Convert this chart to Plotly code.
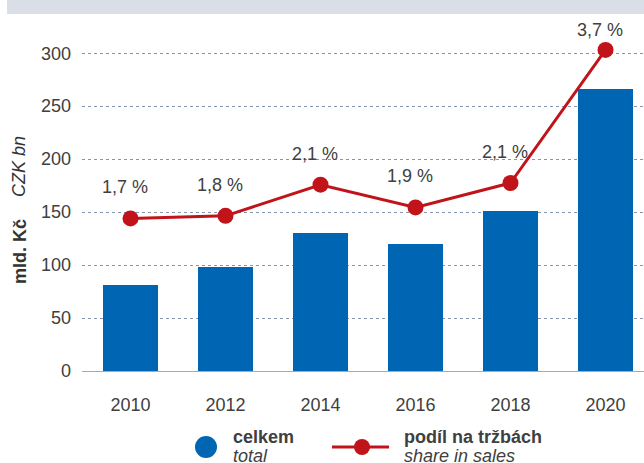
import plotly.graph_objects as go

years = [2010, 2012, 2014, 2016, 2018, 2020]
celkem = [81, 98, 130, 120, 151, 266]
share = [1.70, 1.73, 2.10, 1.83, 2.12, 3.70]
share_labels = ["1,7 %", "1,8 %", "2,1 %", "1,9 %", "2,1 %", "3,7 %"]
y_ticks = [0, 50, 100, 150, 200, 250, 300]

W, H = 644, 463
L, R, T, B = 82, 0, 32, 92
pw, ph = W - L - R, H - T - B

def px(x):
    return (x - L) / pw

def py(y):
    return (H - B - y) / ph

FONT = "Liberation Sans, Arial, sans-serif"
BLUE = "#0066b3"
RED = "#c0141a"
TXT = "#404040"

fig = go.Figure()
fig.add_trace(go.Bar(x=years, y=celkem, marker=dict(color=BLUE, line=dict(width=0)),
                     width=1.145, showlegend=False, hoverinfo="skip"))
fig.add_trace(go.Scatter(x=years, y=share, yaxis="y2", mode="lines+markers",
                         line=dict(color=RED, width=3),
                         marker=dict(color=RED, size=16), showlegend=False, cliponaxis=False))

ann = []
for i, (yr, v, lab) in enumerate(zip(years, share, share_labels)):
    ann.append(dict(x=yr, y=v, xref="x", yref="y2", text=lab, showarrow=False,
                    xshift=-6, yshift=31 if i < 5 else 20,
                    font=dict(family=FONT, size=18, color=TXT)))

# axis titles
ann.append(dict(x=px(20), y=py(252), xref="paper", yref="paper", text="<b>mld. Kč</b>",
                xanchor="center", yanchor="middle",
                textangle=-90, showarrow=False, font=dict(family=FONT, size=18, color="#333333")))
ann.append(dict(x=px(19), y=py(167), xref="paper", yref="paper", text="<i>CZK bn</i>",
                xanchor="center", yanchor="middle",
                textangle=-90, showarrow=False, font=dict(family=FONT, size=18, color="#333333")))

# legend texts
ann.append(dict(x=px(231), y=py(437), xref="paper", yref="paper", text="<b>celkem</b>",
                xanchor="left", yanchor="middle", showarrow=False,
                font=dict(family=FONT, size=18, color=TXT)))
ann.append(dict(x=px(231), y=py(456), xref="paper", yref="paper", text="<i>total</i>",
                xanchor="left", yanchor="middle", showarrow=False,
                font=dict(family=FONT, size=18, color=TXT)))
ann.append(dict(x=px(402), y=py(437), xref="paper", yref="paper", text="<b>podíl na tržbách</b>",
                xanchor="left", yanchor="middle", showarrow=False,
                font=dict(family=FONT, size=18, color=TXT)))
ann.append(dict(x=px(402), y=py(456), xref="paper", yref="paper", text="<i>share in sales</i>",
                xanchor="left", yanchor="middle", showarrow=False,
                font=dict(family=FONT, size=18, color=TXT)))

shapes = [
    dict(type="rect", xref="paper", yref="paper", x0=px(7), x1=px(644), y0=py(0), y1=py(14),
         fillcolor="#dadfe7", line=dict(width=0), layer="below"),
    dict(type="circle", xref="paper", yref="paper", x0=px(195), x1=px(217), y0=py(436), y1=py(458),
         fillcolor=BLUE, line=dict(width=0)),
    dict(type="line", xref="paper", yref="paper", x0=px(332), x1=px(389), y0=py(447), y1=py(447),
         line=dict(color=RED, width=3)),
    dict(type="circle", xref="paper", yref="paper", x0=px(354), x1=px(370), y0=py(439), y1=py(455),
         fillcolor=RED, line=dict(width=0)),
]

fig.update_layout(
    width=W, height=H,
    margin=dict(l=L, r=R, t=T, b=B),
    paper_bgcolor="white", plot_bgcolor="white",
    font=dict(family=FONT, size=18, color=TXT),
    xaxis=dict(range=[2008.979, 2020.81], tickvals=years, ticktext=[str(y) for y in years],
               showgrid=False, zeroline=False, showline=True, linecolor="#9aabc2", linewidth=1,
               ticks="", ticklabelstandoff=17,
               tickfont=dict(size=18, color=TXT)),
    yaxis=dict(range=[0, 320], tickvals=y_ticks, showgrid=True, gridcolor="#8596ad",
               griddash="dot", gridwidth=1, zeroline=False, ticks="", ticklabelstandoff=10,
               tickfont=dict(size=18, color=TXT)),
    yaxis2=dict(range=[-0.112, 3.913], overlaying="y", side="right", visible=False),
    annotations=ann, shapes=shapes, bargap=0,
)

fig.write_html("out.html", config={"displayModeBar": False},
               post_script="document.body.style.margin='0';")
